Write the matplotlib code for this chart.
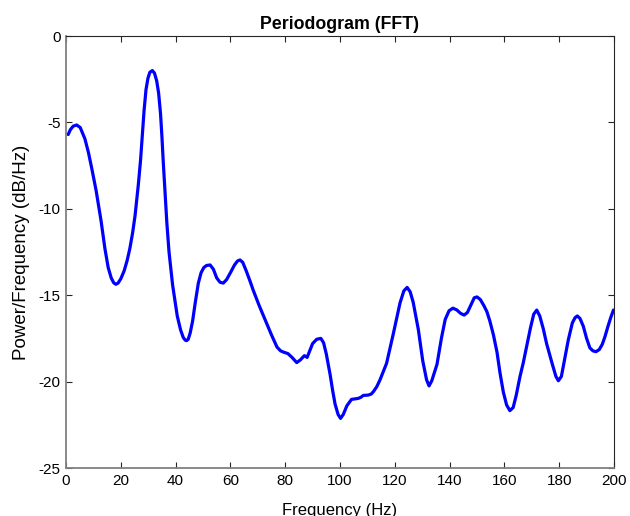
import matplotlib
matplotlib.use("Agg")
import matplotlib.pyplot as plt

plt.rcParams['font.family'] = ['Liberation Sans', 'DejaVu Sans']

freq_hz = [0.8, 1.6, 2.6, 3.9, 5.2, 6.9, 8.2, 9.4, 11.0, 12.8, 14.2, 15.4, 16.5, 17.4,
           18.2, 19.0, 20.0, 21.2, 22.3, 23.3, 24.3, 25.2, 26.4, 27.2, 27.8, 28.5, 29.2,
           29.9, 30.6, 31.5, 32.3, 33.1, 33.8, 34.5, 35.0, 35.5, 36.2, 36.8, 37.6, 38.9,
           40.6, 41.8, 42.8, 43.5, 44.0, 44.6, 45.3, 46.2, 47.2, 48.3, 49.3, 50.3, 51.3,
           52.6, 53.8, 55.0, 56.2, 57.4, 58.6, 60.0, 61.5, 62.6, 63.5, 64.5, 65.8, 67.2,
           68.3, 70.5, 72.6, 75.0, 77.0, 78.3, 79.5, 81.0, 82.5, 84.2, 85.5, 87.0, 88.0,
           89.0, 90.0, 91.5, 93.0, 94.0, 95.0, 96.4, 97.3, 98.2, 99.3, 100.2, 101.2, 102.5,
           104.2, 105.5, 106.7, 107.7, 108.5, 110.3, 111.4, 112.2, 113.4, 114.6, 117.0,
           119.5, 121.9, 123.3, 124.5, 125.6, 126.7, 128.6, 130.2, 131.6, 132.5, 133.5,
           135.4, 137.0, 138.4, 139.8, 141.2, 142.6, 144.0, 145.3, 146.5, 147.8, 149.0,
           150.0, 151.2, 152.5, 153.6, 154.7, 156.0, 157.3, 158.4, 159.6, 160.8, 162.0,
           163.2, 164.3, 165.7, 166.9, 168.2, 169.5, 170.7, 171.8, 172.9, 174.2, 175.4,
           177.5, 178.8, 179.7, 180.8, 182.0, 183.3, 184.8, 185.8, 186.6, 187.6, 188.8,
           190.0, 191.2, 192.3, 193.4, 194.6, 195.7, 196.7, 197.8, 198.8, 199.8]
power_db = [-5.7, -5.42, -5.22, -5.15, -5.3, -5.95, -6.75, -7.66, -8.95, -10.7, -12.3,
            -13.4, -14.0, -14.28, -14.37, -14.3, -14.05, -13.6, -13.0, -12.3, -11.4,
            -10.4, -8.6, -7.2, -5.9, -4.3, -3.1, -2.45, -2.1, -2.0, -2.15, -2.6, -3.3,
            -4.5, -5.8, -7.3, -9.2, -10.8, -12.5, -14.4, -16.2, -17.0, -17.45, -17.6,
            -17.63, -17.55, -17.2, -16.5, -15.4, -14.3, -13.7, -13.4, -13.28, -13.25,
            -13.5, -14.0, -14.25, -14.3, -14.1, -13.7, -13.25, -13.02, -12.96, -13.1,
            -13.6, -14.2, -14.7, -15.6, -16.4, -17.3, -18.0, -18.22, -18.3, -18.38, -18.6,
            -18.9, -18.75, -18.5, -18.6, -18.2, -17.8, -17.55, -17.5, -17.75, -18.4,
            -19.6, -20.5, -21.3, -21.9, -22.13, -21.9, -21.4, -21.03, -21.0, -20.97, -20.9,
            -20.8, -20.78, -20.72, -20.58, -20.3, -19.9, -18.94, -17.2, -15.45, -14.75,
            -14.55, -14.8, -15.4, -17.0, -18.8, -19.9, -20.25, -19.95, -19.0, -17.5,
            -16.4, -15.9, -15.75, -15.85, -16.05, -16.15, -16.0, -15.55, -15.15, -15.1,
            -15.25, -15.6, -15.95, -16.5, -17.3, -18.3, -19.5, -20.6, -21.35, -21.68,
            -21.5, -20.8, -19.7, -18.9, -17.9, -16.9, -16.1, -15.86, -16.2, -16.95, -17.8,
            -19.0, -19.7, -19.95, -19.7, -18.7, -17.6, -16.6, -16.3, -16.2, -16.35, -16.8,
            -17.5, -18.05, -18.22, -18.27, -18.15, -17.85, -17.4, -16.8, -16.3, -15.86]

x_ticks = [0, 20, 40, 60, 80, 100, 120, 140, 160, 180, 200]
y_ticks = [0, -5, -10, -15, -20, -25]

fig = plt.figure(figsize=(6.3, 5.16), dpi=100)
ax = fig.add_axes([66/630, 1-468/516, (614-66)/630, (468-36)/516])
ax.plot(freq_hz, power_db, color=(0, 0, 1), linewidth=2.3,
        solid_joinstyle='round', solid_capstyle='round')
ax.set_xlim(0, 200)
ax.set_ylim(-25, 0)
ax.set_xticks(x_ticks)
ax.set_yticks(y_ticks)
ax.set_yticklabels([str(v) for v in y_ticks])
edge = (0.15, 0.15, 0.15)
for name, s in ax.spines.items():
    if name in ('left', 'bottom'):
        s.set_color((0.5, 0.5, 0.5))
        s.set_linewidth(1.3)
    else:
        s.set_color(edge)
        s.set_linewidth(0.8)
ax.tick_params(direction='in', top=True, right=True, length=4, width=0.8,
               color=edge, labelsize=11, labelcolor='black', pad=4)
ax.set_xlabel('Frequency (Hz)', fontsize=12, labelpad=11)
ax.set_ylabel('Power/Frequency (dB/Hz)', fontsize=13.5, labelpad=6)
ax.set_title('Periodogram (FFT)', fontsize=12.8, fontweight='bold', pad=5)
fig.savefig('out.png', dpi=100)
